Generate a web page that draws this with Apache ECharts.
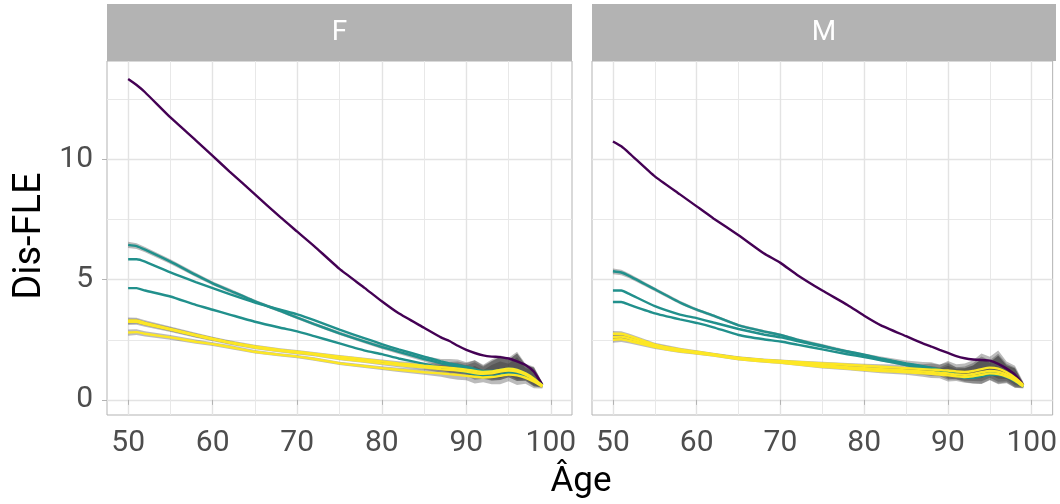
<!DOCTYPE html>
<html><head><meta charset="utf-8">
<script src="https://cdn.jsdelivr.net/npm/echarts@6/dist/echarts.min.js"></script>
<style>html,body{margin:0;padding:0;background:#fff}#c{width:1060px;height:504px}</style>
</head><body><div id="c"></div>
<script>
// ---------- data ----------
const panels = ['F', 'M'];
const ages = [50,51,52,55,58,60,62,65,68,70,72,75,78,80,82,85,87,88,89,90,91,92,93,94,95,96,97,98,99];
const xTicks = [50,60,70,80,90,100];
const xMinor = [55,65,75,85,95];
const yTicks = [0,5,10];
const yMinor = [2.5,7.5,12.5];

// Panel F
const purple_F = [13.35,13.1,12.8,11.75,10.8,10.15,9.5,8.55,7.6,7.0,6.4,5.45,4.65,4.1,3.6,3.0,2.6,2.45,2.25,2.08,1.95,1.85,1.8,1.78,1.72,1.6,1.45,1.17,0.62];
const teal1_F = [6.45,6.4,6.25,5.75,5.2,4.85,4.55,4.1,3.7,3.42,3.15,2.77,2.42,2.2,2.0,1.7,1.52,1.45,1.38,1.3,1.2,1.12,1.12,1.18,1.22,1.18,1.05,0.85,0.6];
const teal2_F = [5.85,5.85,5.75,5.3,4.9,4.65,4.4,4.05,3.75,3.56,3.32,2.92,2.56,2.32,2.1,1.8,1.6,1.52,1.45,1.38,1.28,1.2,1.2,1.25,1.3,1.25,1.1,0.88,0.6];
const teal3_F = [4.65,4.65,4.55,4.3,3.95,3.75,3.55,3.25,3.0,2.85,2.65,2.35,2.05,1.9,1.72,1.5,1.35,1.3,1.22,1.15,1.05,0.98,0.98,1.05,1.12,1.1,1.0,0.82,0.58];
const yellow1_F = [3.3,3.3,3.2,2.95,2.7,2.55,2.4,2.22,2.08,2.0,1.92,1.8,1.68,1.6,1.52,1.42,1.36,1.33,1.3,1.26,1.2,1.16,1.18,1.25,1.3,1.25,1.1,0.88,0.6];
const yellow2_F = [3.25,3.25,3.15,2.92,2.67,2.52,2.37,2.18,2.04,1.96,1.88,1.72,1.6,1.52,1.45,1.35,1.28,1.25,1.22,1.18,1.12,1.08,1.1,1.18,1.22,1.18,1.05,0.84,0.58];
const yellow3_F = [2.8,2.82,2.75,2.6,2.42,2.32,2.2,2.0,1.87,1.8,1.7,1.52,1.4,1.32,1.25,1.15,1.1,1.07,1.04,1.0,0.96,0.93,0.95,1.0,1.05,1.02,0.92,0.76,0.55];
const ribUp_F = [0.13,0.12,0.11,0.1,0.09,0.08,0.08,0.07,0.07,0.07,0.07,0.07,0.07,0.08,0.09,0.12,0.18,0.25,0.3,0.26,0.45,0.3,0.5,0.6,0.45,0.75,0.4,0.5,0.12];
const ribLo_F = [0.13,0.12,0.11,0.1,0.09,0.08,0.08,0.07,0.07,0.07,0.07,0.07,0.07,0.08,0.09,0.1,0.14,0.18,0.2,0.18,0.28,0.2,0.3,0.35,0.28,0.4,0.25,0.28,0.08];

// Panel M
const purple_M = [10.75,10.55,10.25,9.3,8.55,8.05,7.55,6.85,6.1,5.7,5.2,4.55,3.95,3.5,3.1,2.65,2.35,2.22,2.08,1.95,1.82,1.73,1.68,1.66,1.63,1.5,1.3,1.05,0.62];
const teal1_M = [5.35,5.3,5.15,4.6,4.05,3.75,3.5,3.1,2.85,2.7,2.5,2.25,2.0,1.85,1.7,1.5,1.38,1.32,1.25,1.15,1.05,0.98,0.98,1.05,1.12,1.1,1.0,0.8,0.58];
const teal2_M = [4.55,4.55,4.4,3.9,3.55,3.4,3.22,2.95,2.72,2.6,2.45,2.22,2.02,1.88,1.72,1.52,1.4,1.33,1.26,1.18,1.08,1.0,1.0,1.06,1.14,1.12,1.02,0.82,0.58];
const teal3_M = [4.07,4.07,3.95,3.6,3.35,3.2,3.02,2.7,2.52,2.43,2.3,2.1,1.9,1.78,1.65,1.45,1.33,1.27,1.2,1.1,1.0,0.92,0.92,0.98,1.05,1.04,0.95,0.78,0.56];
const yellow1_M = [2.75,2.75,2.65,2.3,2.1,2.0,1.9,1.75,1.66,1.62,1.58,1.52,1.46,1.42,1.38,1.32,1.28,1.26,1.24,1.22,1.18,1.16,1.2,1.28,1.34,1.3,1.15,0.92,0.62];
const yellow2_M = [2.62,2.63,2.55,2.25,2.06,1.97,1.88,1.73,1.64,1.6,1.54,1.45,1.36,1.32,1.28,1.22,1.18,1.16,1.13,1.1,1.06,1.04,1.08,1.15,1.2,1.17,1.05,0.85,0.58];
const yellow3_M = [2.5,2.52,2.45,2.2,2.02,1.94,1.85,1.7,1.6,1.55,1.48,1.38,1.3,1.25,1.2,1.15,1.1,1.08,1.05,1.02,0.98,0.95,0.98,1.04,1.1,1.07,0.97,0.8,0.55];
const ribUp_M = [0.12,0.11,0.1,0.08,0.07,0.06,0.06,0.06,0.06,0.06,0.06,0.07,0.07,0.08,0.1,0.14,0.2,0.25,0.22,0.4,0.3,0.35,0.45,0.65,0.45,0.75,0.45,0.5,0.12];
const ribLo_M = [0.12,0.11,0.1,0.08,0.07,0.06,0.06,0.06,0.06,0.06,0.06,0.07,0.07,0.08,0.09,0.1,0.14,0.17,0.15,0.26,0.2,0.24,0.3,0.38,0.28,0.42,0.28,0.3,0.08];

// ---------- style ----------
const PURPLE = '#440154', TEAL = '#21908C', YELLOW = '#FDE725';
const FONT = 'Roboto';
const GRIDS = [
  {left: 107, top: 61, width: 465, height: 354},
  {left: 592, top: 61, width: 464, height: 354}
];
const XMIN = 47.5, XMAX = 102.5, YMIN = -0.63, YMAX = 14.1;

const panelData = [
  {lines: [[purple_F, PURPLE], [teal1_F, TEAL], [teal2_F, TEAL], [teal3_F, TEAL], [yellow1_F, YELLOW], [yellow2_F, YELLOW], [yellow3_F, YELLOW]],
   ribbons: [teal1_F, yellow1_F, yellow2_F, yellow3_F], up: ribUp_F, lo: ribLo_F},
  {lines: [[purple_M, PURPLE], [teal1_M, TEAL], [teal2_M, TEAL], [teal3_M, TEAL], [yellow1_M, YELLOW], [yellow2_M, YELLOW], [yellow3_M, YELLOW]],
   ribbons: [teal1_M, yellow1_M, yellow2_M, yellow3_M], up: ribUp_M, lo: ribLo_M}
];

const grid = [], xAxis = [], yAxis = [], series = [], graphic = [];

panels.forEach((p, gi) => {
  const g = GRIDS[gi];
  grid.push({left: g.left, top: g.top, width: g.width, height: g.height, show: true,
    borderColor: '#B3B3B3', borderWidth: 1, backgroundColor: 'transparent'});
  xAxis.push({gridIndex: gi, type: 'value', min: XMIN, max: XMAX,
    axisLine: {show: false},
    axisTick: {show: true, customValues: xTicks, length: 5, lineStyle: {color: '#B3B3B3', width: 1}},
    axisLabel: {customValues: xTicks, color: '#4D4D4D', fontSize: 30, fontFamily: FONT, margin: 13},
    splitLine: {show: true, lineStyle: {color: '#E3E3E3', width: 1.4}}});
  xAxis.push({gridIndex: gi, type: 'value', min: XMIN, max: XMAX,
    axisLine: {show: false}, axisLabel: {show: false},
    axisTick: {show: false, customValues: xMinor},
    splitLine: {show: true, lineStyle: {color: '#E8E8E8', width: 1}}});
  yAxis.push({gridIndex: gi, type: 'value', min: YMIN, max: YMAX,
    axisLine: {show: false},
    axisTick: {show: gi === 0, customValues: yTicks, length: 5, lineStyle: {color: '#B3B3B3', width: 1}},
    axisLabel: {show: gi === 0, customValues: yTicks, color: '#4D4D4D', fontSize: 30, fontFamily: FONT, margin: 14},
    splitLine: {show: true, lineStyle: {color: '#E3E3E3', width: 1.4}}});
  yAxis.push({gridIndex: gi, type: 'value', min: YMIN, max: YMAX,
    axisLine: {show: false}, axisLabel: {show: false},
    axisTick: {show: false, customValues: yMinor},
    splitLine: {show: true, lineStyle: {color: '#E8E8E8', width: 1}}});

  const pd = panelData[gi];
  // confidence ribbons, drawn as polygons through the axis scales
  series.push({type: 'custom', xAxisIndex: gi * 2, yAxisIndex: gi * 2, clip: true, z: 1, silent: true,
    data: pd.ribbons.map((vals, ri) => [ages[0], vals[0], ri]),
    encode: {x: 0, y: 1},
    renderItem: (params, api) => {
      const vals = pd.ribbons[params.dataIndex];
      const pts = [];
      for (let i = 0; i < ages.length; i++) pts.push(api.coord([ages[i], vals[i] + pd.up[i]]));
      for (let i = ages.length - 1; i >= 0; i--) pts.push(api.coord([ages[i], vals[i] - pd.lo[i]]));
      return {type: 'polygon', shape: {points: pts}, style: {fill: 'rgba(45,45,45,0.32)'}};
    }});
  pd.lines.forEach(([vals, col]) => {
    series.push({type: 'line', xAxisIndex: gi * 2, yAxisIndex: gi * 2,
      data: ages.map((a, i) => [a, vals[i]]),
      symbol: 'none', showSymbol: false, smooth: 0.15,
      lineStyle: {color: col, width: 2.4}, itemStyle: {color: col}, z: 3, silent: true});
  });

  graphic.push({type: 'rect', shape: {x: g.left, y: 4, width: g.width, height: 57},
    style: {fill: '#B3B3B3'}, z: 10});
  graphic.push({type: 'text', x: g.left + g.width / 2, y: 33,
    style: {text: p, fill: '#FFFFFF', font: '28px ' + FONT, align: 'center', verticalAlign: 'middle',
      textAlign: 'center', textVerticalAlign: 'middle'}, z: 11});
});

graphic.push({type: 'text', x: 581, y: 482,
  style: {text: 'Âge', fill: '#000', font: '35px ' + FONT, align: 'center', verticalAlign: 'middle',
    textAlign: 'center', textVerticalAlign: 'middle'}});
graphic.push({type: 'text', x: 30, y: 236, rotation: Math.PI / 2,
  style: {text: 'Dis-FLE', fill: '#000', font: '38px ' + FONT, align: 'center', verticalAlign: 'middle',
    textAlign: 'center', textVerticalAlign: 'middle'}});

const chart = echarts.init(document.getElementById('c'), null, {renderer: 'canvas'});
chart.setOption({animation: false, backgroundColor: '#fff', grid, xAxis, yAxis, series, graphic});
</script></body></html>
